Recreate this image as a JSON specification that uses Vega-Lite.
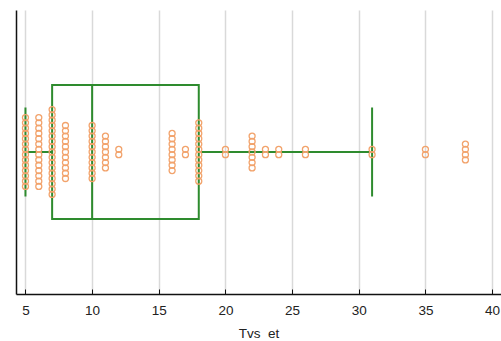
{
  "$schema": "https://vega.github.io/schema/vega-lite/v6.json",
  "width": 485,
  "height": 284,
  "padding": {"left": 16, "top": 10, "right": 0, "bottom": 47},
  "autosize": {"type": "none"},
  "background": "white",
  "config": {"view": {"stroke": null}, "font": "Liberation Sans"},
  "data": {"values": [
    {"v":5},{"v":5},{"v":5},{"v":5},{"v":5},{"v":5},{"v":5},{"v":5},{"v":5},{"v":5},{"v":5},{"v":5},{"v":5},{"v":5},
    {"v":6},{"v":6},{"v":6},{"v":6},{"v":6},{"v":6},{"v":6},{"v":6},{"v":6},{"v":6},{"v":6},{"v":6},{"v":6},{"v":6},
    {"v":7},{"v":7},{"v":7},{"v":7},{"v":7},{"v":7},{"v":7},{"v":7},{"v":7},{"v":7},{"v":7},{"v":7},{"v":7},{"v":7},{"v":7},{"v":7},{"v":7},
    {"v":8},{"v":8},{"v":8},{"v":8},{"v":8},{"v":8},{"v":8},{"v":8},{"v":8},{"v":8},{"v":8},
    {"v":10},{"v":10},{"v":10},{"v":10},{"v":10},{"v":10},{"v":10},{"v":10},{"v":10},{"v":10},{"v":10},
    {"v":11},{"v":11},{"v":11},{"v":11},{"v":11},{"v":11},{"v":11},
    {"v":12},{"v":12},
    {"v":16},{"v":16},{"v":16},{"v":16},{"v":16},{"v":16},{"v":16},{"v":16},
    {"v":17},{"v":17},
    {"v":18},{"v":18},{"v":18},{"v":18},{"v":18},{"v":18},{"v":18},{"v":18},{"v":18},{"v":18},{"v":18},{"v":18},
    {"v":20},{"v":20},
    {"v":22},{"v":22},{"v":22},{"v":22},{"v":22},{"v":22},{"v":22},
    {"v":23},{"v":23},
    {"v":24},{"v":24},
    {"v":26},{"v":26},
    {"v":31},{"v":31},
    {"v":35},{"v":35},
    {"v":38},{"v":38},{"v":38},{"v":38}
  ]},
  "layer": [
    {
      "mark": {
        "type": "boxplot",
        "extent": 1.5,
        "size": 134,
        "color": "#2e8b2e",
        "opacity": 1,
        "outliers": false,
        "box": {"fill": "transparent", "stroke": "#2e8b2e", "strokeWidth": 2},
        "rule": {"color": "#2e8b2e", "strokeWidth": 2},
        "ticks": {"color": "#2e8b2e", "size": 89, "thickness": 2},
        "median": {"color": "#2e8b2e", "thickness": 2}
      },
      "encoding": {
        "x": {
          "field": "v",
          "type": "quantitative",
          "scale": {"domain": [4.29, 40.67], "nice": false, "zero": false},
          "axis": {
            "title": "Tvs\u00a0\u00a0et",
            "values": [5, 10, 15, 20, 25, 30, 35, 40],
            "grid": true,
            "gridColor": "#d9d9d9",
            "gridWidth": 1.5,
            "domainColor": "#111111",
            "domainWidth": 1.5,
            "tickColor": "#111111",
            "tickSize": -5,
            "labelPadding": 14,
            "labelFontSize": 13.5,
            "labelColor": "#222222",
            "titleFontSize": 13.5,
            "titleFontWeight": "normal",
            "titleColor": "#222222",
            "titlePadding": 10
          }
        }
      }
    },
    {
      "transform": [
        {"window": [{"op": "row_number", "as": "r"}], "groupby": ["v"]},
        {"joinaggregate": [{"op": "count", "as": "n"}], "groupby": ["v"]},
        {"calculate": "datum.r - (datum.n + 1) / 2", "as": "k"}
      ],
      "mark": {"type": "point", "shape": "circle", "filled": false, "size": 36, "stroke": "#f2a36c", "strokeWidth": 1.3, "opacity": 1},
      "encoding": {
        "x": {"field": "v", "type": "quantitative"},
        "y": {
          "field": "k",
          "type": "quantitative",
          "scale": {"domain": [-26.8, 26.8], "nice": false, "zero": false},
          "axis": {"title": null, "labels": false, "ticks": false, "grid": false, "domainColor": "#111111", "domainWidth": 1.5}
        }
      }
    }
  ]
}
